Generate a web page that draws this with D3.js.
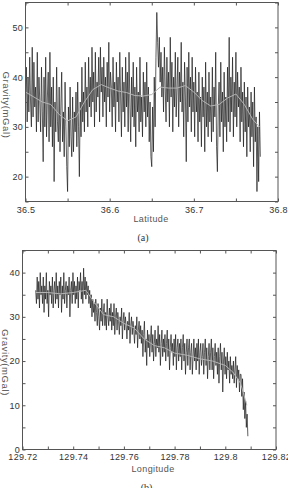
<!DOCTYPE html>
<html>
<head>
<meta charset="utf-8">
<script src="https://cdn.jsdelivr.net/npm/d3@7"></script>
<style>
  body { margin: 0; background: #fff; }
  svg { display: block; font-family: "Liberation Sans", Arial, sans-serif; }
</style>
</head>
<body>
<div id="chart"></div>
<script>
// panel (a): gravity along latitude, one value per 0.001 deg
const latStart = 36.5, latStep = 0.001;
const gravityA = [
  36, 42, 31, 40, 33, 44, 35, 30, 46, 32,
  43, 34, 38, 29, 45, 31, 40, 35, 29, 42,
  33, 23, 40, 30, 44, 28, 36, 41, 27, 45,
  30, 38, 26, 40, 19, 35, 29, 42, 31, 27,
  38, 25, 34, 41, 27, 33, 24, 39, 30, 22,
  17, 34, 26, 38, 28, 24, 36, 25, 33, 29,
  37, 26, 39, 30, 20, 35, 28, 42, 31, 37,
  29, 43, 33, 38, 30, 44, 34, 40, 32, 46,
  35, 41, 30, 45, 33, 39, 36, 44, 31, 46,
  37, 42, 32, 44, 35, 40, 30, 43, 36, 47,
  33, 41, 38, 30, 44, 34, 39, 29, 43, 35,
  40, 31, 45, 36, 28, 42, 33, 39, 30, 44,
  34, 41, 29, 45, 35, 27, 40, 32, 43, 30,
  38, 26, 42, 33, 37, 29, 44, 31, 36, 28,
  41, 33, 39, 30, 43, 32, 38, 27, 35, 24,
  22, 34, 25, 40, 30, 44, 53, 47, 42, 48,
  39, 45, 36, 42, 33, 46, 38, 31, 44, 35,
  41, 30, 48, 36, 43, 29, 40, 34, 45, 32,
  38, 44, 30, 41, 35, 47, 33, 39, 28, 43,
  36, 23, 42, 31, 45, 34, 40, 29, 44, 33,
  39, 28, 42, 33, 37, 27, 41, 31, 36, 26,
  40, 32, 38, 25, 43, 30, 37, 28, 41, 31,
  36, 27, 42, 29, 38, 32, 45, 26, 21, 34,
  39, 28, 43, 31, 37, 25, 41, 30, 36, 27,
  42, 31, 48, 29, 40, 33, 44, 28, 39, 32,
  45, 30, 41, 34, 38, 27, 42, 31, 37, 26,
  39, 29, 36, 24, 38, 30, 34, 25, 37, 28,
  35, 22, 38, 27, 32, 17, 30, 19, 33, 24
];
const smoothLatA = [36.5, 36.51, 36.52, 36.53, 36.54, 36.55, 36.56, 36.57, 36.58, 36.59,
  36.60, 36.61, 36.62, 36.63, 36.64, 36.65, 36.66, 36.67, 36.68, 36.69,
  36.70, 36.71, 36.72, 36.73, 36.74, 36.75, 36.76, 36.77, 36.778];
const smoothA = [37, 36, 35, 34.5, 32.5, 31.2, 32, 35, 37.5, 38.5,
  37.8, 37.2, 36.9, 36.3, 36.2, 36.5, 38, 37.8, 37.8, 38.3,
  37, 35.3, 34.2, 34.5, 35.8, 36.6, 34.5, 31.5, 30];
const xTicksA = [36.5, 36.55, 36.6, 36.65, 36.7, 36.75, 36.8];
const xLabelsA = ["36.5", "", "36.6", "", "36.7", "", "36.8"];
const yTicksA = [15, 20, 25, 30, 35, 40, 45, 50, 55];
const yLabelsA = ["", "20", "", "30", "", "40", "", "50", ""];

// panel (b): gravity along longitude, one value per 0.0003 deg
const lonStart = 129.7252, lonStep = 0.0003;
const gravityB = [
  36, 33, 39, 34, 38, 32, 40, 35, 37, 33,
  39, 31, 37, 34, 40, 33, 36, 30, 38, 35,
  37, 33, 39, 32, 36, 38, 33, 40, 34, 37,
  32, 38, 35, 39, 31, 37, 34, 40, 33, 36,
  38, 32, 37, 35, 39, 30, 36, 38, 33, 40,
  35, 38, 33, 37, 34, 39, 32, 38, 36, 40,
  34, 38, 33, 41, 35, 39, 34, 38, 35, 37,
  33, 36, 32, 35, 30, 34, 31, 33, 29, 34,
  31, 28, 33, 30, 27, 32, 29, 34, 28, 31,
  33, 28, 31, 27, 34, 30, 28, 32, 29, 33,
  27, 31, 28, 33, 26, 30, 32, 27, 31, 29,
  26, 30, 28, 32, 25, 29, 31, 27, 30, 28,
  25, 29, 27, 31, 24, 28, 30, 26, 29, 27,
  24, 28, 26, 30, 23, 27, 29, 25, 28, 24,
  27, 21, 26, 29, 22, 25, 19, 27, 23, 26,
  21, 25, 28, 22, 26, 20, 24, 27, 21, 25,
  23, 28, 22, 26, 19, 24, 27, 21, 25, 22,
  26, 20, 24, 27, 21, 25, 18, 23, 26, 22,
  24, 19, 25, 21, 26, 18, 23, 25, 20, 24,
  21, 25, 18, 23, 26, 20, 24, 17, 22, 25,
  19, 23, 25, 18, 22, 24, 17, 21, 25, 20,
  23, 18, 24, 20, 25, 17, 22, 24, 19, 21,
  24, 17, 22, 25, 19, 23, 16, 21, 24, 18,
  22, 25, 18, 23, 16, 21, 24, 19, 22, 17,
  23, 15, 21, 24, 18, 22, 13, 20, 23, 17,
  21, 16, 22, 18, 20, 15, 21, 17, 19, 16,
  20, 15, 18, 21, 14, 19, 16, 18, 13, 17,
  17, 12, 16, 9, 13, 7, 11, 5, 8, 3
];
const smoothLonB = [129.7252, 129.73, 129.735, 129.74, 129.745, 129.748, 129.752, 129.756,
  129.76, 129.764, 129.768, 129.772, 129.776, 129.78, 129.785, 129.79, 129.795, 129.8,
  129.803, 129.806, 129.8085];
const smoothB = [35.5, 35.5, 35.2, 35.5, 36, 33.5, 30.5, 30, 28.5, 27.5, 25, 23.5, 23,
  21.8, 21.3, 20.5, 20, 19, 17.5, 15, 10];
const xTicksB = [129.72, 129.73, 129.74, 129.75, 129.76, 129.77, 129.78, 129.79, 129.8, 129.81, 129.82];
const xLabelsB = ["129.72", "", "129.74", "", "129.76", "", "129.78", "", "129.8", "", "129.82"];
const yTicksB = [0, 5, 10, 15, 20, 25, 30, 35, 40, 45];
const yLabelsB = ["0", "", "10", "", "20", "", "30", "", "40", ""];

const svg = d3.select("#chart").append("svg")
  .attr("width", 288)
  .attr("height", 488);

function panel(opt) {
  const x = d3.scaleLinear().domain(opt.xDomain).range([opt.left, opt.right]);
  const y = d3.scaleLinear().domain(opt.yDomain).range([opt.bottom, opt.top]);
  const g = svg.append("g");

  const pts = opt.values.map((v, i) => ({ x: opt.start + i * opt.step, v: v }));
  const line = d3.line().x(d => x(d.x)).y(d => y(d.v));

  g.append("path")
    .datum(pts)
    .attr("fill", "none")
    .attr("stroke", "#1a1a1a")
    .attr("stroke-width", 0.7)
    .attr("d", line);

  g.append("path")
    .datum(opt.smoothX.map((s, i) => ({ x: s, v: opt.smooth[i] })))
    .attr("fill", "none")
    .attr("stroke", "#b4b4b4")
    .attr("stroke-width", 1)
    .attr("d", line);

  const xf = d => opt.xLabels[opt.xTicks.indexOf(d)];
  const yf = d => opt.yLabels[opt.yTicks.indexOf(d)];

  const axes = [
    { ax: d3.axisBottom(x).tickValues(opt.xTicks).tickFormat(xf).tickSizeInner(-3).tickPadding(opt.xPad),
      t: "translate(0," + opt.bottom + ")" },
    { ax: d3.axisTop(x).tickValues(opt.xTicks).tickFormat("").tickSizeInner(-3),
      t: "translate(0," + opt.top + ")" },
    { ax: d3.axisLeft(y).tickValues(opt.yTicks).tickFormat(yf).tickSizeInner(-3).tickPadding(2.5),
      t: "translate(" + opt.left + ",0)" },
    { ax: d3.axisRight(y).tickValues(opt.yTicks).tickFormat("").tickSizeInner(-3),
      t: "translate(" + opt.right + ",0)" }
  ];
  axes.forEach(a => {
    const ag = g.append("g").attr("transform", a.t).call(a.ax.tickSizeOuter(0));
    ag.select(".domain").remove();
    ag.selectAll("line").attr("stroke", "#555");
    ag.selectAll("text")
      .attr("fill", "#333")
      .style("font-size", "9px")
      .style("font-family", "'Liberation Sans', Arial, sans-serif")
      .style("letter-spacing", "0.3px");
  });

  g.append("rect")
    .attr("x", opt.left).attr("y", opt.top)
    .attr("width", opt.right - opt.left)
    .attr("height", opt.bottom - opt.top)
    .attr("fill", "none")
    .attr("stroke", "#555")
    .attr("stroke-width", 1);

  g.append("text")
    .attr("x", opt.xTitlePos[0]).attr("y", opt.xTitlePos[1])
    .attr("text-anchor", "middle")
    .attr("fill", "#555")
    .style("font-size", "9px")
    .style("letter-spacing", "0.4px")
    .text(opt.xTitle);

  g.append("text")
    .attr("transform", "translate(" + opt.yTitlePos[0] + "," + opt.yTitlePos[1] + ") rotate(90)")
    .attr("text-anchor", "middle")
    .attr("fill", "#555")
    .style("font-size", "9.5px")
    .style("letter-spacing", "0.6px")
    .text("Gravity(mGal)");

  g.append("text")
    .attr("x", opt.capPos[0]).attr("y", opt.capPos[1])
    .attr("text-anchor", "middle")
    .attr("fill", "#333")
    .style("font-family", "'Liberation Serif', 'Times New Roman', serif")
    .style("font-size", "10px")
    .text(opt.caption);
}

panel({
  xDomain: [36.5, 36.8], yDomain: [15, 55],
  left: 25.5, right: 278, top: 2.5, bottom: 201.5,
  start: latStart, step: latStep, values: gravityA,
  smoothX: smoothLatA, smooth: smoothA,
  xTicks: xTicksA, xLabels: xLabelsA, yTicks: yTicksA, yLabels: yLabelsA,
  xPad: 5, xTitle: "Latitude", xTitlePos: [151, 221.5],
  yTitlePos: [2.5, 105], caption: "(a)", capPos: [143, 240.5]
});

panel({
  xDomain: [129.72, 129.82], yDomain: [0, 45],
  left: 22.5, right: 276, top: 250.5, bottom: 449.5,
  start: lonStart, step: lonStep, values: gravityB,
  smoothX: smoothLonB, smooth: smoothB,
  xTicks: xTicksB, xLabels: xLabelsB, yTicks: yTicksB, yLabels: yLabelsB,
  xPad: 4, xTitle: "Longitude", xTitlePos: [153, 472],
  yTitlePos: [2, 362.5], caption: "(b)", capPos: [146.5, 491]
});
</script>
</body>
</html>
